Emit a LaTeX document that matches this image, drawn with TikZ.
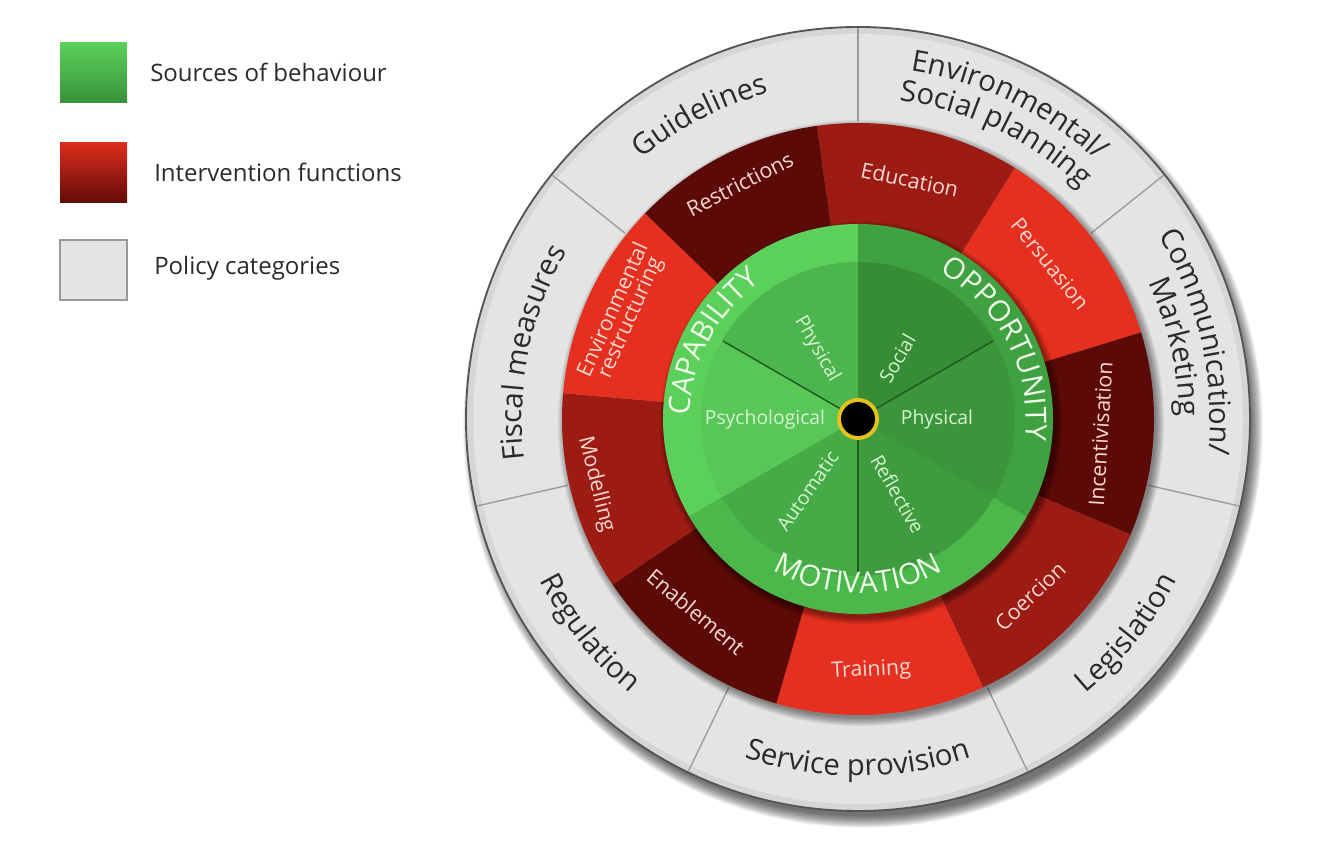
\documentclass[tikz,border=0pt]{standalone}
\usepackage{fontspec}
\setmainfont{Open Sans}
\usetikzlibrary{decorations.text}
\definecolor{polgray}{HTML}{E4E4E4}
\definecolor{polrim}{HTML}{D6D6D6}
\definecolor{polline}{HTML}{9A9A9A}
\definecolor{poledge}{HTML}{555555}
\definecolor{poltext}{HTML}{2A2A2A}
\definecolor{redA}{HTML}{E6301F}
\definecolor{redB}{HTML}{9C1B13}
\definecolor{redC}{HTML}{5C0A07}
\definecolor{redtext}{HTML}{F7D8D2}
\definecolor{capRing}{HTML}{5BD05B}
\definecolor{oppRing}{HTML}{3FA13F}
\definecolor{motRing}{HTML}{4CB84C}
\definecolor{capPhys}{HTML}{4DB54D}
\definecolor{capPsy}{HTML}{58C758}
\definecolor{motAuto}{HTML}{46AA46}
\definecolor{motRefl}{HTML}{3E9C3E}
\definecolor{oppPhys}{HTML}{3B963B}
\definecolor{oppSoc}{HTML}{368D36}
\definecolor{greenline}{HTML}{1F5A1F}
\definecolor{subtext}{HTML}{D8F4D2}
\definecolor{bigtext}{HTML}{F0FFEC}
\definecolor{hubyellow}{HTML}{E8C21C}
\newcommand\ringseg[5]{\fill[#5] (#3:#2) arc[start angle=#3,end angle=#4,radius=#2] -- (#4:#1) arc[start angle=#4,end angle=#3,radius=#1] -- cycle;}
\newcommand\polfont{\fontsize{22}{24}\selectfont}
\newcommand\bigfont{\fontsize{22}{24}\selectfont}
\tikzset{
  ivlabel/.style={text=redtext, font=\fontsize{16}{17}\selectfont, inner sep=0pt, align=center},
  sublabel/.style={text=subtext, font=\fontsize{14.5}{16}\selectfont, inner sep=0pt},
  legtext/.style={text=poltext, font=\fontsize{18}{20}\selectfont, anchor=west, inner sep=0pt},
  polarc/.style={decorate, decoration={text along path, text align=center, text color=poltext, text={|\polfont|#1}}},
  bigarc/.style={decorate, decoration={text along path, text align=center, text color=bigtext, text={|\bigfont|#1}}},
  sep/.style={draw=polline, line width=1pt},
  spoke/.style={draw=greenline, line width=1.1pt}
}
\begin{document}
\begin{tikzpicture}[x=0.75pt,y=0.75pt]
\useasboundingbox (0,0) rectangle (1334,850);
% legend
\shade[top color=capRing, bottom color=oppRing!90!black] (60,747) rectangle (127,807);
\shade[top color=redA!95!black, bottom color=redC!90!redB] (60,647) rectangle (127,707);
\fill[polgray, draw=gray!80, line width=1.2pt] (60,550) rectangle (127,610);
\node[legtext] (l1) at (150,778) {Sources of behaviour};
\node[legtext] (l2) at (154,678) {Intervention functions};
\node[legtext] (l3) at (154,582) {Policy categories};
\begin{scope}[shift={(858,431)}]
% outer drop shadow
\foreach \i in {0,...,13} \fill[black,opacity=0.055] (5,-9) circle[radius=388+\i*0.9];
% policy ring
\fill[polrim] (0,0) circle[radius=392];
\fill[polgray] (0,0) circle[radius=385];
\draw[poledge, line width=1.4pt] (0,0) circle[radius=392];
\foreach \a in {90,38.57,-12.86,-64.29,-115.71,-167.14,141.43}
  \draw[sep] (\a:298) -- (\a:391);
% shadow of the red ring
\foreach \i in {0,...,9} \fill[black,opacity=0.05] (3,-4) circle[radius=295+\i*0.9];
% intervention functions
\ringseg{190}{296}{58}{98}{redB}
\ringseg{190}{296}{17}{58}{redA}
\ringseg{190}{296}{-23}{17}{redC}
\ringseg{190}{296}{-65}{-23}{redB}
\ringseg{190}{296}{-106}{-65}{redA}
\ringseg{190}{296}{-146}{-106}{redC}
\ringseg{190}{296}{-185}{-146}{redB}
\ringseg{190}{296}{-224}{-185}{redA}
\ringseg{190}{296}{-262}{-224}{redC}
% shadow of the green disc
\foreach \i in {0,...,7} \fill[black,opacity=0.06] (3,-4) circle[radius=195+\i*0.9];
% green outer ring
\ringseg{0}{195}{90}{210}{capRing}
\ringseg{0}{195}{-30}{90}{oppRing}
\ringseg{0}{195}{210}{330}{motRing}
% inner disc
\ringseg{0}{157}{90}{150}{capPhys}
\ringseg{0}{157}{150}{210}{capPsy}
\ringseg{0}{157}{210}{270}{motAuto}
\ringseg{0}{157}{270}{330}{motRefl}
\ringseg{0}{157}{-30}{30}{oppPhys}
\ringseg{0}{157}{30}{90}{oppSoc}
\foreach \a in {150,30,270} \draw[spoke] (0,0) -- (\a:156);
% hub
\fill[hubyellow] (0,0) circle[radius=21];
\fill[black] (0,0) circle[radius=17];
% policy labels
\path[polarc={Guidelines}] (143:338) arc[start angle=143,end angle=92,radius=338];
\path[polarc={Environmental/}] (90:352) arc[start angle=90,end angle=38.57,radius=352];
\path[polarc={Social planning}] (90:321) arc[start angle=90,end angle=38.57,radius=321];
\path[polarc={Communication/}] (38.57:352) arc[start angle=38.57,end angle=-12.86,radius=352];
\path[polarc={Marketing}] (38.57:321) arc[start angle=38.57,end angle=-12.86,radius=321];
\path[polarc={Fiscal measures}] (194:336) arc[start angle=194,end angle=143,radius=336];
\path[polarc={Regulation}] (-167.14:357) arc[start angle=-167.14,end angle=-115.71,radius=357];
\path[polarc={Service provision}] (-115.71:357) arc[start angle=-115.71,end angle=-64.29,radius=357];
\path[polarc={Legislation}] (-64.29:357) arc[start angle=-64.29,end angle=-12.86,radius=357];
% intervention labels
\node[ivlabel, rotate=-12] (edu) at (77.8:245) {Education};
\node[ivlabel, rotate=-51] (per) at (38.9:247) {Persuasion};
\node[ivlabel, rotate=86.5] (inc) at (-3.5:243) {Incentivisation};
\node[ivlabel, rotate=44] (coe) at (-45.8:247) {Coercion};
\node[ivlabel, rotate=3] (tra) at (-87:252) {Training};
\node[ivlabel, rotate=-40] (ena) at (-130:252) {Enablement};
\node[ivlabel, rotate=-76] (mod) at (-166:270) {Modelling};
\node[ivlabel, rotate=66, align=center] (env) at (156:258) {Environmental\\[-3pt]restructuring};
\node[ivlabel, rotate=27] (res) at (116.7:263) {Restrictions};
% sources of behaviour
\path[bigarc={CAPABILITY}] (212:168) arc[start angle=212,end angle=92,radius=168];
\path[bigarc={OPPORTUNITY}] (87:168) arc[start angle=87,end angle=-33,radius=168];
\path[bigarc={MOTIVATION}] (210:174) arc[start angle=210,end angle=330,radius=174];
\node[sublabel, rotate=-60] (cphys) at (120.4:81) {Physical};
\node[sublabel, rotate=0] (cpsy) at (180:93) {Psychological};
\node[sublabel, rotate=60] (osoc) at (57:72) {Social};
\node[sublabel, rotate=0] (ophys) at (0:79) {Physical};
\node[sublabel, rotate=-60] (mref) at (-62:85) {Reflective};
\node[sublabel, rotate=55] (maut) at (-125:88) {Automatic};
\end{scope}
\end{tikzpicture}
\end{document}
